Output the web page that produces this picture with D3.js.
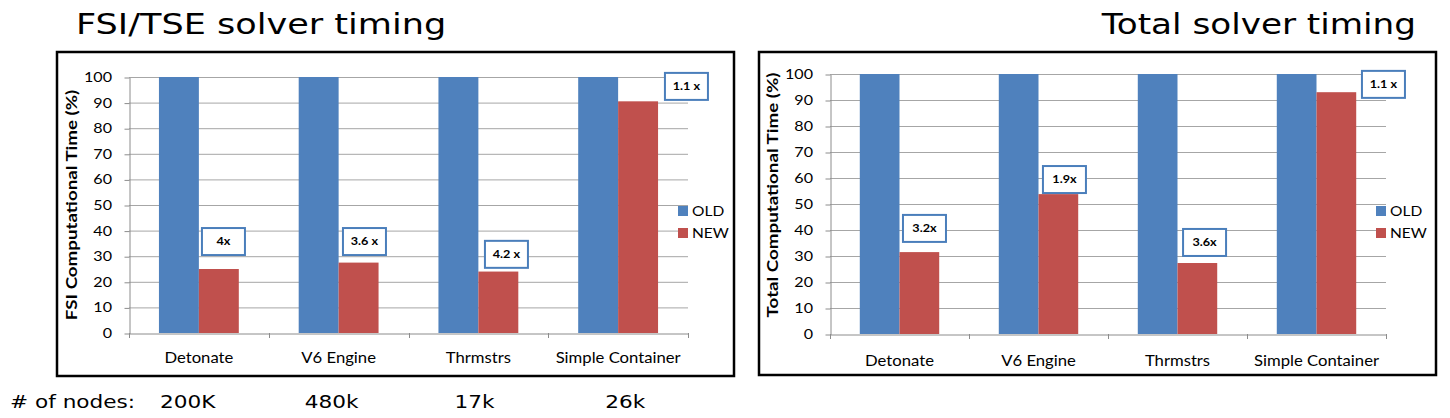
<!DOCTYPE html>
<html><head><meta charset="utf-8">
<script src="https://cdn.jsdelivr.net/npm/d3@7"></script>
<style>body{margin:0;background:#fff;} svg{display:block}</style>
</head><body>
<svg id="c" width="1450" height="418"></svg>
<script>
// ---------------- data ----------------
const categories = ["Detonate", "V6 Engine", "Thrmstrs", "Simple Container"];
const seriesNames = ["OLD", "NEW"];
const fsiOld = [100, 100, 100, 100];
const fsiNew = [25, 27.5, 24, 90.5];
const totalOld = [100, 100, 100, 100];
const totalNew = [31.5, 53.8, 27.3, 93];
const fsiSpeedups = ["4x", "3.6 x", "4.2 x", "1.1 x"];
const totalSpeedups = ["3.2x", "1.9x", "3.6x", "1.1 x"];
const fsiSpeedupTop = [41, 41, 36, 101.6];     // value at top of each speedup box
const totalSpeedupTop = [45.8, 64.6, 40.4, 101.2];
const nodeCounts = ["200K", "480k", "17k", "26k"];
const yTicks = [0, 10, 20, 30, 40, 50, 60, 70, 80, 90, 100];

// ---------------- layout / style ----------------
const COLORS = {OLD: "#4F81BD", NEW: "#C0504D"};
const STRETCH = 1.15;   // horizontal text stretch of the original picture
const SANS = "Lato, 'Open Sans', sans-serif";
const VERD = "'DejaVu Sans', Verdana, sans-serif";

const svg = d3.select("#c");

function label(parent, x, y, str, o = {}) {
  const sx = o.sx == null ? STRETCH : o.sx;
  const t = parent.append("text")
    .attr("transform", `translate(${x},${y})` + (o.rotate ? ` rotate(${o.rotate})` : "") + ` scale(${sx},1)`)
    .attr("text-anchor", o.anchor || "start")
    .attr("font-family", o.family || SANS)
    .attr("font-size", o.size || 14)
    .attr("font-weight", o.weight || "normal")
    .attr("fill", o.fill || "#000")
    .text(str);
  if (o.middle) t.attr("dy", "0.35em");
  return t;
}

function drawChart(cfg) {
  const g = svg.append("g");
  g.append("rect")
    .attr("x", cfg.frame.x).attr("y", cfg.frame.y)
    .attr("width", cfg.frame.w).attr("height", cfg.frame.h)
    .attr("fill", "none").attr("stroke", "#000").attr("stroke-width", 2.5);

  const x = d3.scaleBand().domain(categories).range([cfg.plot.x0, cfg.plot.x1]);
  const y = d3.scaleLinear().domain([0, 100]).range([cfg.plot.y0, cfg.plot.y1]);
  const bw = x.bandwidth() / 3.5;           // Excel gap width 150%
  const sub = d3.scaleBand().domain(seriesNames).range([0, 2 * bw]);

  // gridlines
  g.append("g").selectAll("line").data(yTicks.filter(t => t > 0)).join("line")
    .attr("x1", cfg.plot.x0).attr("x2", cfg.plot.x1)
    .attr("y1", d => y(d) + 0.5).attr("y2", d => y(d) + 0.5)
    .attr("stroke", "#a6a6a6").attr("stroke-width", 1);

  // y axis
  const ya = g.append("g").attr("transform", `translate(${cfg.plot.x0 + 0.5},0.5)`)
    .call(d3.axisLeft(y).tickValues(yTicks).tickSize(5).tickSizeOuter(0).tickFormat(""));
  ya.selectAll("line,path").attr("stroke", "#8c8c8c");
  yTicks.forEach(t => label(g, cfg.plot.x0 - 17, y(t), String(t), {anchor: "end", size: 14, middle: true}));

  // bars
  const rows = categories.map((c, i) => ({c, OLD: cfg.old[i], NEW: cfg.neu[i]}));
  g.append("g").selectAll("g").data(rows).join("g")
    .attr("transform", d => `translate(${x(d.c) + (x.bandwidth() - 2 * bw) / 2},0)`)
    .selectAll("rect").data(d => seriesNames.map(s => ({s, v: d[s]}))).join("rect")
    .attr("x", d => sub(d.s)).attr("width", sub.bandwidth())
    .attr("y", d => y(d.v)).attr("height", d => y(0) - y(d.v))
    .attr("fill", d => COLORS[d.s]);

  // x axis
  const xa = g.append("g").attr("transform", `translate(0,${cfg.plot.y0 + 0.5})`)
    .call(d3.axisBottom(x).tickSize(0).tickSizeOuter(0).tickFormat(""));
  xa.selectAll("path").attr("stroke", "#8c8c8c");
  const bounds = categories.map(c => x(c)).concat([cfg.plot.x1]);
  g.append("g").selectAll("line").data(bounds).join("line")
    .attr("x1", d => Math.round(d) + 0.5).attr("x2", d => Math.round(d) + 0.5)
    .attr("y1", cfg.plot.y0).attr("y2", cfg.plot.y0 + 5)
    .attr("stroke", "#8c8c8c");
  categories.forEach(c => label(g, x(c) + x.bandwidth() / 2, cfg.catY, c, {anchor: "middle", size: 14.5}));

  // y title
  label(g, cfg.ytitle.x, cfg.ytitle.y, cfg.ytitle.text, {anchor: "middle", size: 15, weight: "bold", rotate: -90, sx: 1.25, middle: true});

  // speedup boxes
  const boxW = 43, boxH = 27;
  categories.forEach((c, i) => {
    const bx = x(c) + cfg.boxFrac[i] * x.bandwidth();
    const by = y(cfg.speedTop[i]);
    g.append("rect").attr("x", bx).attr("y", by).attr("width", boxW).attr("height", boxH)
      .attr("fill", "#fff").attr("stroke", "#4a7ebb").attr("stroke-width", 2);
    label(g, bx + boxW / 2, by + boxH / 2, cfg.speed[i], {anchor: "middle", size: 11, weight: "bold", middle: true});
  });

  // legend
  seriesNames.forEach((s, i) => {
    const ly = cfg.legend.y + i * 22;
    g.append("rect").attr("x", cfg.legend.x).attr("y", ly - 5).attr("width", 10).attr("height", 10).attr("fill", COLORS[s]);
    label(g, cfg.legend.x + 14, ly, s, {size: 13.5, middle: true});
  });

  // title
  label(g, cfg.title.x, cfg.title.y, cfg.title.text, {anchor: cfg.title.anchor, family: VERD, size: 29, sx: cfg.title.sx});
  return x;
}

const xLeft = drawChart({
  frame: {x: 57, y: 52, w: 677, h: 324},
  plot: {x0: 129, x1: 688, y0: 333, y1: 77},
  old: fsiOld, neu: fsiNew, speed: fsiSpeedups, speedTop: fsiSpeedupTop,
  boxFrac: [0.522, 0.531, 0.547, 0.835],
  catY: 363,
  ytitle: {x: 72, y: 205, text: "FSI Computational  Time (%)"},
  legend: {x: 678, y: 211},
  title: {x: 76, y: 34, text: "FSI/TSE solver timing", anchor: "start", sx: 1.21}
});
drawChart({
  frame: {x: 759, y: 52, w: 677, h: 323},
  plot: {x0: 830, x1: 1386, y0: 334, y1: 74},
  old: totalOld, neu: totalNew, speed: totalSpeedups, speedTop: totalSpeedupTop,
  boxFrac: [0.525, 0.532, 0.54, 0.827],
  catY: 366,
  ytitle: {x: 773, y: 195, text: "Total Computational Time (%)"},
  legend: {x: 1376, y: 211},
  title: {x: 1416, y: 34, text: "Total solver timing", anchor: "end", sx: 1.18}
});

// node counts under the left chart
const nodeOffsets = [31, 36, 46, 57];
label(svg, 10, 408, "# of nodes:", {family: VERD, size: 18, sx: 1.2});
categories.forEach((c, i) => label(svg, xLeft(c) + nodeOffsets[i], 408, nodeCounts[i], {family: VERD, size: 18, sx: 1.2}));
</script>
</body></html>
